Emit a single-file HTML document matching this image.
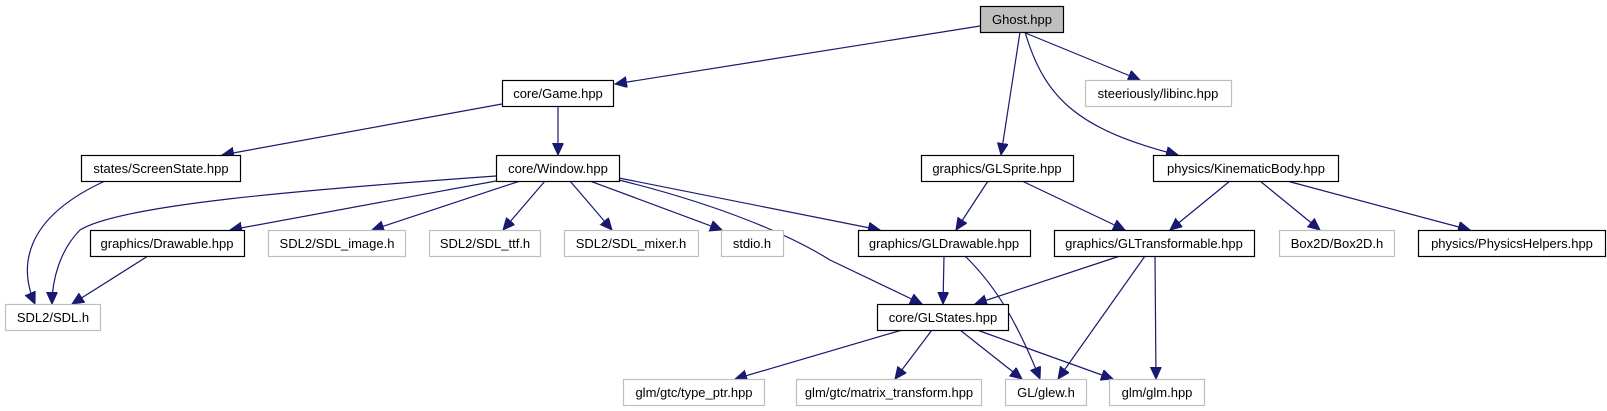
<!DOCTYPE html>
<html><head><meta charset="utf-8"><style>
html,body{margin:0;padding:0;background:#fff;}
svg{display:block;}
text{font-family:"Liberation Sans",sans-serif;font-size:13px;fill:#000;text-anchor:middle;}
.b{fill:#fff;stroke:#000;stroke-width:1.2;}
.g{fill:#fff;stroke:#bfbfbf;stroke-width:1.2;}
.e{fill:none;stroke:#191970;stroke-width:1.2;marker-end:url(#a);}
</style></head><body>
<svg width="1607" height="411" viewBox="0 0 1607 411" xmlns="http://www.w3.org/2000/svg">
<defs><marker id="a" markerUnits="userSpaceOnUse" markerWidth="14" markerHeight="12" refX="12" refY="5.5" orient="auto"><path d="M0,0 L12,5.5 L0,11 Z" fill="#191970" stroke="#191970"/></marker></defs>
<g>
<path class="e" d="M980,26 L615,84"/>
<path class="e" d="M1023,32 L1140,80"/>
<path class="e" d="M1020,32 L1001,155"/>
<path class="e" d="M1025,32 C1045,100 1080,130 1178,155"/>
<path class="e" d="M502,104 L222,155"/>
<path class="e" d="M558,106 L558,155"/>
<path class="e" d="M105,181 C20,220 20,270 35,304"/>
<path class="e" d="M496,176 C300,190 120,205 80,230 C60,250 52,280 52,304"/>
<path class="e" d="M496,181 L230,230"/>
<path class="e" d="M520,181 L372,230"/>
<path class="e" d="M545,181 L503,230"/>
<path class="e" d="M570,181 L612,230"/>
<path class="e" d="M590,181 L722,230"/>
<path class="e" d="M619,178 L880,230"/>
<path class="e" d="M619,180 C720,205 790,235 830,260 L922,304"/>
<path class="e" d="M988,181 L956,230"/>
<path class="e" d="M1022,181 L1125,230"/>
<path class="e" d="M1230,181 L1170,230"/>
<path class="e" d="M1260,181 L1320,230"/>
<path class="e" d="M1287,181 L1470,230"/>
<path class="e" d="M148,256 L72,304"/>
<path class="e" d="M944,256 L943,304"/>
<path class="e" d="M965,256 C1000,290 1020,330 1040,379"/>
<path class="e" d="M1120,256 L975,304"/>
<path class="e" d="M1145,256 L1058,379"/>
<path class="e" d="M1155,256 L1156,379"/>
<path class="e" d="M902,330 L735,379"/>
<path class="e" d="M932,330 L895,379"/>
<path class="e" d="M960,330 L1022,379"/>
<path class="e" d="M977,330 L1113,379"/>
</g>
<g>
<rect x="980.5" y="6.5" width="83" height="26" fill="#bfbfbf" stroke="#000" stroke-width="1.2"/><text x="1022" y="24">Ghost.hpp</text>
<rect class="b" x="502.5" y="80.5" width="111" height="26"/><text x="558" y="98">core/Game.hpp</text>
<rect class="g" x="1085.5" y="80.5" width="146" height="26"/><text x="1158" y="98">steeriously/libinc.hpp</text>
<rect class="b" x="81.5" y="155.5" width="159" height="26"/><text x="161" y="173">states/ScreenState.hpp</text>
<rect class="b" x="496.5" y="155.5" width="123" height="26"/><text x="558" y="173">core/Window.hpp</text>
<rect class="b" x="921.5" y="155.5" width="152" height="26"/><text x="997" y="173">graphics/GLSprite.hpp</text>
<rect class="b" x="1153.5" y="155.5" width="185" height="26"/><text x="1246" y="173">physics/KinematicBody.hpp</text>
<rect class="b" x="90.5" y="230.5" width="154" height="26"/><text x="167" y="248">graphics/Drawable.hpp</text>
<rect class="g" x="268.5" y="230.5" width="137" height="26"/><text x="337" y="248">SDL2/SDL_image.h</text>
<rect class="g" x="429.5" y="230.5" width="111" height="26"/><text x="485" y="248">SDL2/SDL_ttf.h</text>
<rect class="g" x="564.5" y="230.5" width="134" height="26"/><text x="631" y="248">SDL2/SDL_mixer.h</text>
<rect class="g" x="721.5" y="230.5" width="62" height="26"/><text x="752" y="248">stdio.h</text>
<rect class="b" x="858.5" y="230.5" width="172" height="26"/><text x="944" y="248">graphics/GLDrawable.hpp</text>
<rect class="b" x="1054.5" y="230.5" width="200" height="26"/><text x="1154" y="248">graphics/GLTransformable.hpp</text>
<rect class="g" x="1279.5" y="230.5" width="115" height="26"/><text x="1337" y="248">Box2D/Box2D.h</text>
<rect class="b" x="1418.5" y="230.5" width="187" height="26"/><text x="1512" y="248">physics/PhysicsHelpers.hpp</text>
<rect class="g" x="5.5" y="304.5" width="95" height="26"/><text x="53" y="322">SDL2/SDL.h</text>
<rect class="b" x="877.5" y="304.5" width="131" height="26"/><text x="943" y="322">core/GLStates.hpp</text>
<rect class="g" x="623.5" y="379.5" width="141" height="26"/><text x="694" y="397">glm/gtc/type_ptr.hpp</text>
<rect class="g" x="796.5" y="379.5" width="185" height="26"/><text x="889" y="397">glm/gtc/matrix_transform.hpp</text>
<rect class="g" x="1005.5" y="379.5" width="81" height="26"/><text x="1046" y="397">GL/glew.h</text>
<rect class="g" x="1109.5" y="379.5" width="95" height="26"/><text x="1157" y="397">glm/glm.hpp</text>
</g>
</svg>
</body></html>
